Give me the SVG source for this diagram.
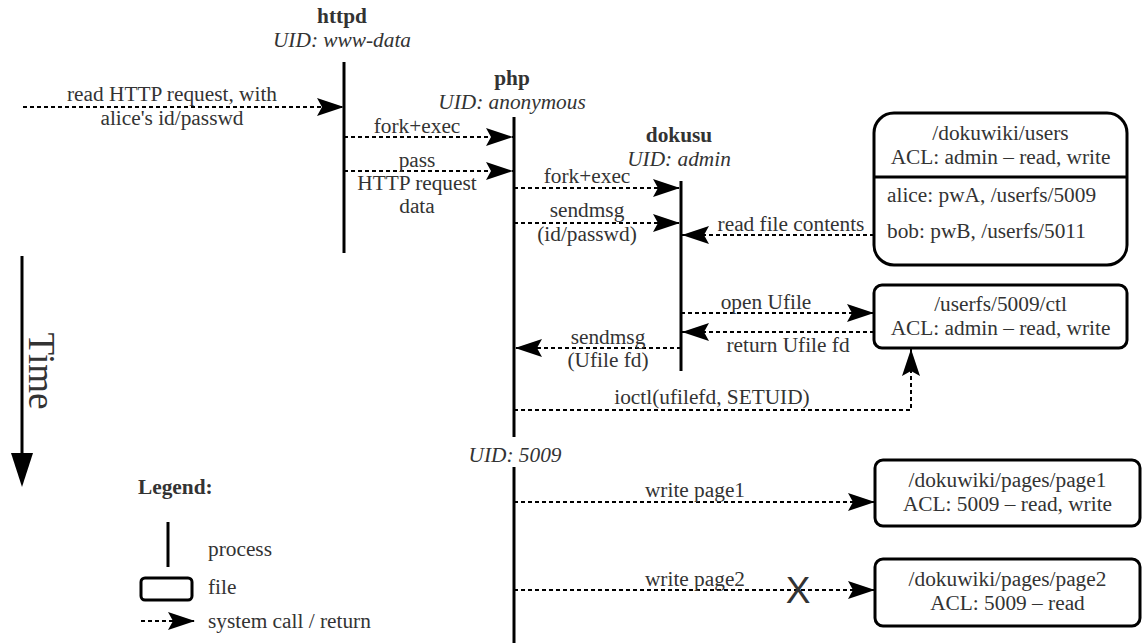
<svg xmlns="http://www.w3.org/2000/svg" width="1143" height="643" viewBox="0 0 1143 643">
<style>
text{font-family:"Liberation Serif","Times New Roman",serif;font-size:21.33px;fill:#333}
.c{text-anchor:middle}
.b{font-weight:bold}
.i{font-style:italic}
.life{stroke:#000;stroke-width:3;fill:none}
.box{stroke:#000;stroke-width:3;fill:#fff}
.call{stroke:#000;stroke-width:2;stroke-dasharray:4 3;fill:none;marker-end:url(#ah)}
</style>
<defs>
<marker id="ah" viewBox="0 0 27 18" markerWidth="27" markerHeight="18" refX="27" refY="9" markerUnits="userSpaceOnUse" orient="auto">
<path d="M0,0 L27,9 L0,18 L5,9 Z" fill="#000"/>
</marker>
</defs>
<rect width="1143" height="643" fill="#fff"/>

<g id="time-axis">
<line x1="22" y1="256" x2="22" y2="458" stroke="#000" stroke-width="3"/>
<polygon points="11,453 33,453 22,487" fill="#000"/>
<text transform="translate(29,371) rotate(90)" class="c" style="font-size:37px">Time</text>
</g>

<g id="httpd">
<text x="342" y="23" class="c b">httpd</text>
<text x="342" y="47" class="c i">UID: www-data</text>
<line class="life" x1="344" y1="62" x2="344" y2="253"/>
</g>

<g id="php">
<text x="512" y="85" class="c b">php</text>
<text x="512" y="109" class="c i">UID: anonymous</text>
<line class="life" x1="514" y1="117" x2="514" y2="437"/>
<text x="515" y="462" class="c i">UID: 5009</text>
<line class="life" x1="514" y1="467" x2="514" y2="643"/>
</g>

<g id="dokusu">
<text x="679" y="142" class="c b">dokusu</text>
<text x="679" y="166" class="c i">UID: admin</text>
<line class="life" x1="681" y1="181" x2="681" y2="371"/>
</g>

<g id="file-users">
<rect class="box" x="874" y="113" width="253" height="152" rx="20"/>
<line x1="874" y1="177" x2="1127" y2="177" stroke="#000" stroke-width="3"/>
<text x="1000.5" y="140" class="c">/dokuwiki/users</text>
<text x="1000.5" y="164" class="c">ACL: admin – read, write</text>
<text x="887" y="202">alice: pwA, /userfs/5009</text>
<text x="887" y="238">bob: pwB, /userfs/5011</text>
</g>

<g id="file-ctl">
<rect class="box" x="874" y="285" width="253" height="63" rx="8"/>
<text x="1000.5" y="311" class="c">/userfs/5009/ctl</text>
<text x="1000.5" y="335" class="c">ACL: admin – read, write</text>
</g>

<g id="file-page1">
<rect class="box" x="875" y="460" width="265" height="66" rx="8"/>
<text x="1007.5" y="487" class="c">/dokuwiki/pages/page1</text>
<text x="1007.5" y="511" class="c">ACL: 5009 – read, write</text>
</g>

<g id="file-page2">
<rect class="box" x="875" y="559" width="265" height="67" rx="8"/>
<text x="1007.5" y="586" class="c">/dokuwiki/pages/page2</text>
<text x="1007.5" y="610" class="c">ACL: 5009 – read</text>
</g>

<g id="connectors">
<g id="c-read-http">
<path class="call" d="M23,107 H344"/>
<text x="172" y="101" class="c">read HTTP request, with</text>
<text x="172" y="125" class="c">alice's id/passwd</text>
</g>
<g id="c-fork1">
<path class="call" d="M344,137 H513"/>
<text x="417" y="133" class="c">fork+exec</text>
</g>
<g id="c-pass">
<path class="call" d="M344,171 H513"/>
<text x="417" y="167" class="c">pass</text>
<text x="417" y="190" class="c">HTTP request</text>
<text x="417" y="213" class="c">data</text>
</g>
<g id="c-fork2">
<path class="call" d="M514,188 H680"/>
<text x="587" y="183" class="c">fork+exec</text>
</g>
<g id="c-sendmsg1">
<path class="call" d="M514,223 H680"/>
<text x="587" y="217" class="c">sendmsg</text>
<text x="587" y="241" class="c">(id/passwd)</text>
</g>
<g id="c-readfile">
<path class="call" d="M874,235 H682"/>
<text x="791" y="231" class="c">read file contents</text>
</g>
<g id="c-open">
<path class="call" d="M681,313 H874"/>
<text x="766" y="309" class="c">open Ufile</text>
</g>
<g id="c-return">
<path class="call" d="M874,332 H682"/>
<text x="788" y="352" class="c">return Ufile fd</text>
</g>
<g id="c-sendmsg2">
<path class="call" d="M681,348 H515"/>
<text x="608" y="344" class="c">sendmsg</text>
<text x="608" y="367" class="c">(Ufile fd)</text>
</g>
<g id="c-ioctl">
<path class="call" d="M514,410 H911 V349"/>
<text x="712" y="404" class="c">ioctl(ufilefd, SETUID)</text>
</g>
<g id="c-write1">
<path class="call" d="M514,502 H875"/>
<text x="695" y="497" class="c">write page1</text>
</g>
<g id="c-write2">
<path class="call" d="M514,590 H875"/>
<text x="695" y="586" class="c">write page2</text>
<text x="798" y="603" class="c" style="font-family:'Liberation Sans',Arial,sans-serif;font-size:37px">X</text>
</g>
</g>

<g id="legend">
<text x="138" y="494" class="b">Legend:</text>
<line class="life" x1="168" y1="522" x2="168" y2="567"/>
<text x="208" y="556">process</text>
<rect class="box" x="141" y="578" width="51" height="22" rx="4"/>
<text x="208" y="594">file</text>
<path class="call" d="M141,621 H195"/>
<text x="208" y="628">system call / return</text>
</g>
</svg>
